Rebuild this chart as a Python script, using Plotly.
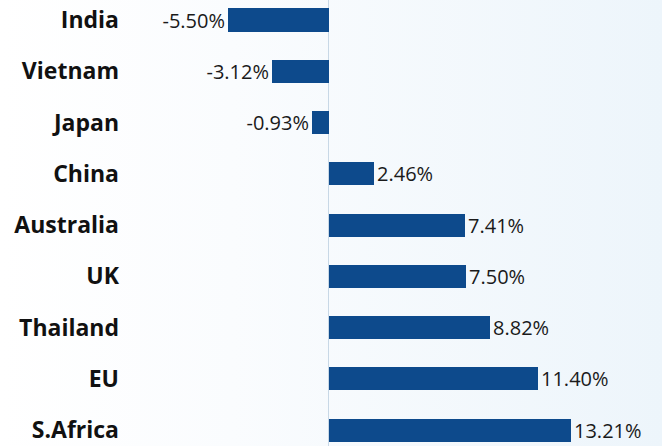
import plotly.graph_objects as go

# Change by country, top to bottom
countries = ["India", "Vietnam", "Japan", "China", "Australia", "UK",
             "Thailand", "EU", "S.Africa"]
changes = [-5.50, -3.12, -0.93, 2.46, 7.41, 7.50, 8.82, 11.40, 13.21]
labels = ["-5.50%", "-3.12%", "-0.93%", "2.46%", "7.41%", "7.50%",
          "8.82%", "11.40%", "13.21%"]

W, H = 662, 446
BAR = "#0d4a8c"

# soft left-to-right background wash
bg_svg = (
    "data:image/svg+xml;utf8,"
    "<svg xmlns='http://www.w3.org/2000/svg' width='662' height='446'>"
    "<defs><linearGradient id='g' x1='0' y1='0' x2='1' y2='0'>"
    "<stop offset='0' stop-color='%23ffffff'/>"
    "<stop offset='0.35' stop-color='%23fafcfe'/>"
    "<stop offset='1' stop-color='%23edf5fb'/>"
    "</linearGradient></defs>"
    "<rect width='662' height='446' fill='url(%23g)'/></svg>"
)

fig = go.Figure(
    go.Bar(
        x=changes,
        y=list(range(len(countries))),
        orientation="h",
        marker=dict(color=BAR, line=dict(width=0)),
        width=0.45,
        text=labels,
        textposition="outside",
        constraintext="none",
        cliponaxis=False,
        textfont=dict(family="Open Sans, sans-serif", size=20, color="#1a1a1a"),
        hoverinfo="skip",
    )
)

fig.update_layout(
    width=W,
    height=H,
    margin=dict(l=130, r=0, t=0, b=0),
    paper_bgcolor="white",
    plot_bgcolor="rgba(0,0,0,0)",
    showlegend=False,
    bargap=0,
    images=[dict(source=bg_svg, xref="paper", yref="paper", x=-130 / 532,
                 y=1, sizex=662 / 532, sizey=1, sizing="stretch",
                 xanchor="left", yanchor="top", layer="below")],
    xaxis=dict(
        range=[-10.87, 18.20],
        showgrid=False,
        zeroline=True,
        zerolinecolor="#c8d8e6",
        zerolinewidth=1,
        showticklabels=False,
        ticks="",
        fixedrange=True,
    ),
    yaxis=dict(
        range=[8.31, -0.39],
        tickmode="array",
        tickvals=list(range(len(countries))),
        ticktext=countries,
        tickfont=dict(family="Open Sans, sans-serif", size=23, color="#111111",
                      weight="bold"),
        ticks="",
        showgrid=False,
        zeroline=False,
        ticklabelstandoff=10,
        fixedrange=True,
    ),
)

fig.write_html("out.html")
